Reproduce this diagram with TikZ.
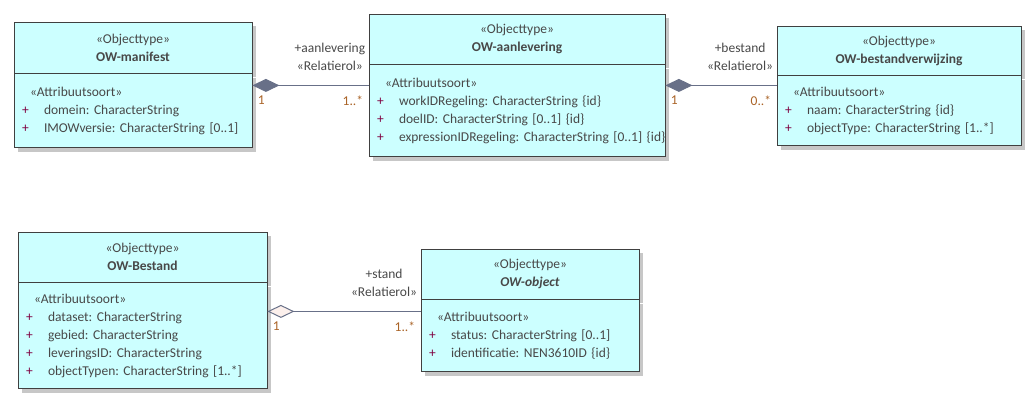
\documentclass[tikz,border=0pt]{standalone}
\usepackage{fontspec}
\setmainfont{Carlito}
\usetikzlibrary{positioning,arrows.meta,shadows}
\definecolor{clsfill}{RGB}{204,255,255}
\definecolor{clsline}{RGB}{64,64,64}
\definecolor{clstext}{RGB}{72,72,72}
\definecolor{plussign}{RGB}{128,0,64}
\definecolor{assocline}{RGB}{104,112,136}
\definecolor{multtext}{RGB}{170,100,40}
\definecolor{aggfill}{RGB}{252,240,236}
\newcommand{\attr}[1]{\makebox[22pt][l]{\textcolor{plussign}{+}}\mbox{#1}}
\newcommand{\stereo}{\hspace*{8pt}«Attribuutsoort»}
\frenchspacing

\begin{document}
\begin{tikzpicture}[x=1pt,y=-1pt,
    every node/.style={font=\fontsize{13.5}{18}\selectfont, text=clstext},
    clshead/.style={draw=clsline, fill=clsfill, line width=0.8pt, align=center,
        drop shadow={shadow xshift=4pt, shadow yshift=-4pt, fill=black!22, opacity=1}},
    clsbody/.style={draw=clsline, fill=clsfill, line width=0.8pt, align=left,
        inner xsep=8pt, inner ysep=0pt,
        drop shadow={shadow xshift=4pt, shadow yshift=-4pt, fill=black!22, opacity=1}},
    assoc/.style={draw=assocline, line width=1pt},
    comp/.style={assoc, {Diamond[length=27pt,width=13pt,fill=assocline]}-},
    aggr/.style={assoc, {Diamond[length=27pt,width=13pt,fill=aggfill]}-},
    role/.style={anchor=south east, align=center, inner sep=0pt, xshift=-3pt, yshift=14pt},
    multl/.style={anchor=north west, inner sep=0pt, text=multtext, xshift=5pt, yshift=-10pt},
    multr/.style={anchor=north east, inner sep=0pt, text=multtext, xshift=-5pt, yshift=-10pt}]
\useasboundingbox (0,0) rectangle (1035,402);

% classes
\node[clshead, minimum width=238pt, minimum height=51pt] (mh) at (133,47.5)
    {«Objecttype»\\\textbf{OW-manifest}};
\node[clsbody, text width=222pt, minimum height=74pt, below=0pt of mh] (mb)
    {\stereo\\\attr{domein: CharacterString}\\\attr{IMOWversie: CharacterString [0..1]}};

\node[clshead, minimum width=296pt, minimum height=50pt] (ah) at (517,39)
    {«Objecttype»\\\textbf{OW-aanlevering}};
\node[clsbody, text width=280pt, minimum height=92pt, below=0pt of ah] (ab)
    {\stereo\\\attr{workIDRegeling: CharacterString \{id\}}\\\attr{doelID: CharacterString [0..1] \{id\}}\\\attr{expressionIDRegeling: CharacterString [0..1] \{id\}}};

\node[clshead, minimum width=244pt, minimum height=49pt] (vh) at (899,50.5)
    {«Objecttype»\\\textbf{OW-bestandverwijzing}};
\node[clsbody, text width=228pt, minimum height=70pt, below=0pt of vh] (vb)
    {\stereo\\\attr{naam: CharacterString \{id\}}\\\attr{objectType: CharacterString [1..*]}};

\node[clshead, minimum width=249pt, minimum height=50pt] (bh) at (142.5,257)
    {«Objecttype»\\\textbf{OW-Bestand}};
\node[clsbody, text width=233pt, minimum height=106pt, below=0pt of bh] (bb)
    {\stereo\\\attr{dataset: CharacterString}\\\attr{gebied: CharacterString}\\\attr{leveringsID: CharacterString}\\\attr{objectTypen: CharacterString [1..*]}};

\node[clshead, minimum width=218pt, minimum height=50pt] (oh) at (530,274)
    {«Objecttype»\\\textbf{\textit{OW-object}}};
\node[clsbody, text width=202pt, minimum height=72pt, below=0pt of oh] (ob)
    {\stereo\\\attr{status: CharacterString [0..1]}\\\attr{identificatie: NEN3610ID \{id\}}};

% relations
\path (mb.north east) ++(0,12) coordinate (c1);
\path (ab.north east) ++(0,21) coordinate (c2);
\path (ob.north west) ++(0,12) coordinate (c3);

\draw[comp] (c1) -- (c1 -| ab.west)
    node[pos=0, multl] {1}
    node[pos=1, multr] {1..*}
    node[pos=1, role] {+aanlevering\\«Relatierol»};
\draw[comp] (c2) -- (c2 -| vb.west)
    node[pos=0, multl] {1}
    node[pos=1, multr] {0..*}
    node[pos=1, role] {+bestand\\«Relatierol»};
\draw[aggr] (c3 -| bb.east) -- (c3)
    node[pos=0, multl] {1}
    node[pos=1, multr] {1..*}
    node[pos=1, role] {+stand\\«Relatierol»};

\end{tikzpicture}
\end{document}
